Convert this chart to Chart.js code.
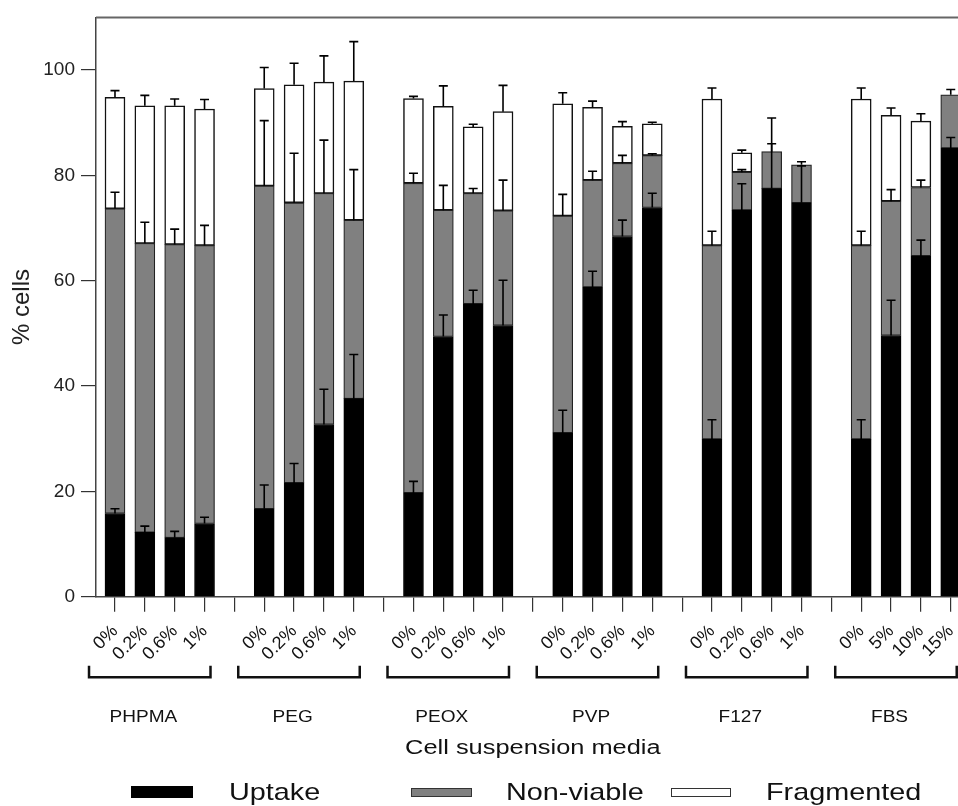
<!DOCTYPE html>
<html>
<head>
<meta charset="utf-8">
<script src="https://cdn.jsdelivr.net/npm/chart.js@4/dist/chart.umd.min.js"></script>
<style>
  body { margin: 0; overflow: hidden; background: #fff; }
  #wrap { position: relative; width: 1000px; height: 806px; }
  .box { position: absolute; box-sizing: border-box; }
  .txt { position: absolute; font: 24px "Liberation Sans", Arial, sans-serif; line-height: 24px;
         color: #111; transform: scaleX(1.2); transform-origin: left center; white-space: nowrap; }
</style>
</head>
<body>
<div id="wrap">
  <canvas id="chart"></canvas>
  <div class="box" style="left:131px;top:786px;width:62px;height:12px;background:#000"></div>
  <div class="txt" style="left:229px;top:780px">Uptake</div>
  <div class="box" style="left:411px;top:788px;width:61px;height:9px;background:#808080;border:1.5px solid #333"></div>
  <div class="txt" style="left:506px;top:780px">Non-viable</div>
  <div class="box" style="left:671px;top:788px;width:60px;height:9px;background:#fff;border:1.5px solid #333"></div>
  <div class="txt" style="left:766px;top:780px">Fragmented</div>
</div>
<script>
const groups = ['PHPMA', 'PEG', 'PEOX', 'PVP', 'F127', 'FBS'];
const doses = [
    ['0%', '0.2%', '0.6%', '1%'],
    ['0%', '0.2%', '0.6%', '1%'],
    ['0%', '0.2%', '0.6%', '1%'],
    ['0%', '0.2%', '0.6%', '1%'],
    ['0%', '0.2%', '0.6%', '1%'],
    ['0%', '5%', '10%', '15%']
];
const yTicks = [0, 20, 40, 60, 80, 100];

// segment heights (% cells), 4 bars per group
const uptake     = [15.8, 12.2, 11.2, 13.9,  16.7, 21.6, 32.7, 37.6,  19.7, 49.4, 55.6, 51.5,  31.1, 58.8, 68.4, 73.9,  29.9, 73.4, 77.5, 74.8,  29.9, 49.6, 64.7, 85.2];
const nonViable  = [57.9, 54.9, 55.7, 52.8,  61.3, 53.2, 43.9, 33.9,  58.8, 24.0, 21.0, 21.8,  41.2, 20.3, 13.9, 9.9,   36.8, 7.2, 7.0, 7.2,     36.8, 25.5, 13.0, 10.1];
const fragmented = [21.1, 26.1, 26.3, 25.9,  18.5, 22.4, 21.1, 26.4,  16.1, 19.7, 12.6, 18.8,  21.3, 13.8, 7.0, 6.0,    27.8, 3.7, null, null,   27.8, 16.3, 12.6, null];

// upper error bars (SD)
const uptakeSd     = [0.9, 1.2, 1.2, 1.2,  4.5, 3.7, 6.7, 8.4,  2.2, 4.1, 2.6, 8.6,  4.3, 3.0, 3.1, 2.7,  3.7, 5.0, 13.4, 7.0,  3.7, 6.7, 3.0, 2.0];
const nonViableSd  = [3.1, 4.0, 2.9, 3.8,  12.4, 9.4, 10.1, 9.6,  1.9, 4.7, 0.9, 5.8,  4.1, 1.7, 1.5, 0.3,  2.7, 0.5, 1.5, 0.6,  2.7, 2.2, 1.4, 1.0];
const fragmentedSd = [1.3, 2.0, 1.3, 1.8,  4.0, 4.1, 5.0, 7.5,  0.4, 3.9, 0.5, 5.0,  2.1, 1.2, 0.9, 0.3,  2.1, 0.5, null, null,  2.1, 1.4, 1.4, null];

// each group takes 4 slots + 1 empty slot
const slot = i => Math.floor(i / 4) * 5 + (i % 4);
const toPoints = arr => arr.map((v, i) => ({ x: slot(i), y: v })).filter(p => p.y !== null);

const sds = [uptakeSd, nonViableSd, fragmentedSd];
const segs = [uptake, nonViable, fragmented];

const font = '"Liberation Sans", Arial, sans-serif';
Chart.defaults.font.family = font;
Chart.defaults.color = '#222';

const extras = {
    id: 'extras',
    afterDatasetsDraw(chart) {
        const ctx = chart.ctx;
        const x = chart.scales.x, y = chart.scales.y;
        const area = chart.chartArea;
        ctx.save();
        // frame top
        ctx.strokeStyle = '#666';
        ctx.lineWidth = 2;
        ctx.beginPath();
        ctx.moveTo(area.left, area.top);
        ctx.lineTo(area.right, area.top);
        ctx.lineTo(area.right, area.bottom);
        ctx.stroke();

        // error bars
        ctx.strokeStyle = '#000';
        ctx.lineWidth = 1.6;
        for (let i = 0; i < uptake.length; i++) {
            let base = 0;
            for (let d = 0; d < 3; d++) {
                const v = segs[d][i];
                if (v === null) continue;
                base += v;
                const sd = sds[d][i];
                if (!sd) continue;
                const px = x.getPixelForValue(slot(i));
                const y0 = y.getPixelForValue(base);
                const y1 = y.getPixelForValue(base + sd);
                ctx.beginPath();
                ctx.moveTo(px, y0);
                ctx.lineTo(px, y1);
                ctx.moveTo(px - 4.5, y1);
                ctx.lineTo(px + 4.5, y1);
                ctx.stroke();
            }
        }
        ctx.restore();
    },
    afterDraw(chart) {
        const ctx = chart.ctx;
        const x = chart.scales.x;
        const top = x.top;
        ctx.save();
        ctx.strokeStyle = '#111';
        ctx.lineWidth = 2.5;
        ctx.fillStyle = '#111';
        groups.forEach((g, gi) => {
            const first = gi * 5, last = gi * 5 + 3;
            const x1 = x.getPixelForValue(first - 0.87);
            const x2 = x.getPixelForValue(last + 0.2);
            ctx.beginPath();
            ctx.moveTo(x1, top + 69);
            ctx.lineTo(x1, top + 80.5);
            ctx.lineTo(x2, top + 80.5);
            ctx.lineTo(x2, top + 69);
            ctx.stroke();

            const cx = x.getPixelForValue(first + 1.5 - 0.55);
            ctx.save();
            ctx.translate(cx, top + 121);
            ctx.scale(1.12, 1);
            ctx.font = '17px ' + font;
            ctx.textAlign = 'center';
            ctx.textBaseline = 'middle';
            ctx.fillText(g, 0, 0);
            ctx.restore();
        });
        // axis title
        ctx.save();
        ctx.translate(x.getPixelForValue(14), top + 152);
        ctx.scale(1.27, 1);
        ctx.font = '20px ' + font;
        ctx.textAlign = 'center';
        ctx.textBaseline = 'middle';
        ctx.fillText('Cell suspension media', 0, 0);
        ctx.restore();
        ctx.restore();
    }
};

new Chart(document.getElementById('chart'), {
    type: 'bar',
    data: {
        datasets: [
            { label: 'Uptake', data: toPoints(uptake), backgroundColor: '#000', borderColor: '#000', borderWidth: 1 },
            { label: 'Non-viable', data: toPoints(nonViable), backgroundColor: '#808080', borderColor: '#222', borderWidth: 1.2 },
            { label: 'Fragmented', data: toPoints(fragmented), backgroundColor: '#fff', borderColor: '#111', borderWidth: 1.5 }
        ]
    },
    options: {
        responsive: true,
        maintainAspectRatio: false,
        animation: false,
        layout: { padding: { top: 15, left: 0, right: 0, bottom: 0 } },
        datasets: { bar: { barThickness: 20, borderSkipped: false } },
        scales: {
            x: {
                type: 'linear',
                stacked: true,
                offset: false,
                min: -0.636,
                max: 29.65,
                afterBuildTicks: s => { s.ticks = Array.from({ length: 29 }, (_, i) => ({ value: i })); },
                afterFit: s => { s.height = 209.3; },
                grid: { offset: false, drawOnChartArea: false, tickLength: 15, color: '#333', lineWidth: 1.2 },
                border: { color: '#444', width: 1.5 },
                ticks: {
                    autoSkip: false,
                    minRotation: 45,
                    maxRotation: 45,
                    padding: 9,
                    color: '#111',
                    font: { size: 18 },
                    callback: v => (v % 5 === 4 ? '' : doses[Math.floor(v / 5)][v % 5])
                }
            },
            y: {
                stacked: true,
                min: 0,
                max: 110,
                afterBuildTicks: s => { s.ticks = yTicks.map(v => ({ value: v })); },
                afterFit: s => { s.width = 96; },
                grid: { drawOnChartArea: false, tickLength: 15, color: '#333', lineWidth: 1.2 },
                border: { color: '#444', width: 1.5 },
                ticks: { padding: 6, color: '#222', font: { size: 19 } },
                title: { display: true, text: '% cells', color: '#222', font: { size: 24 }, padding: { top: 8 } }
            }
        },
        plugins: {
            legend: { display: false },
            tooltip: { enabled: false }
        }
    },
    plugins: [extras]
});
</script>
</body>
</html>
